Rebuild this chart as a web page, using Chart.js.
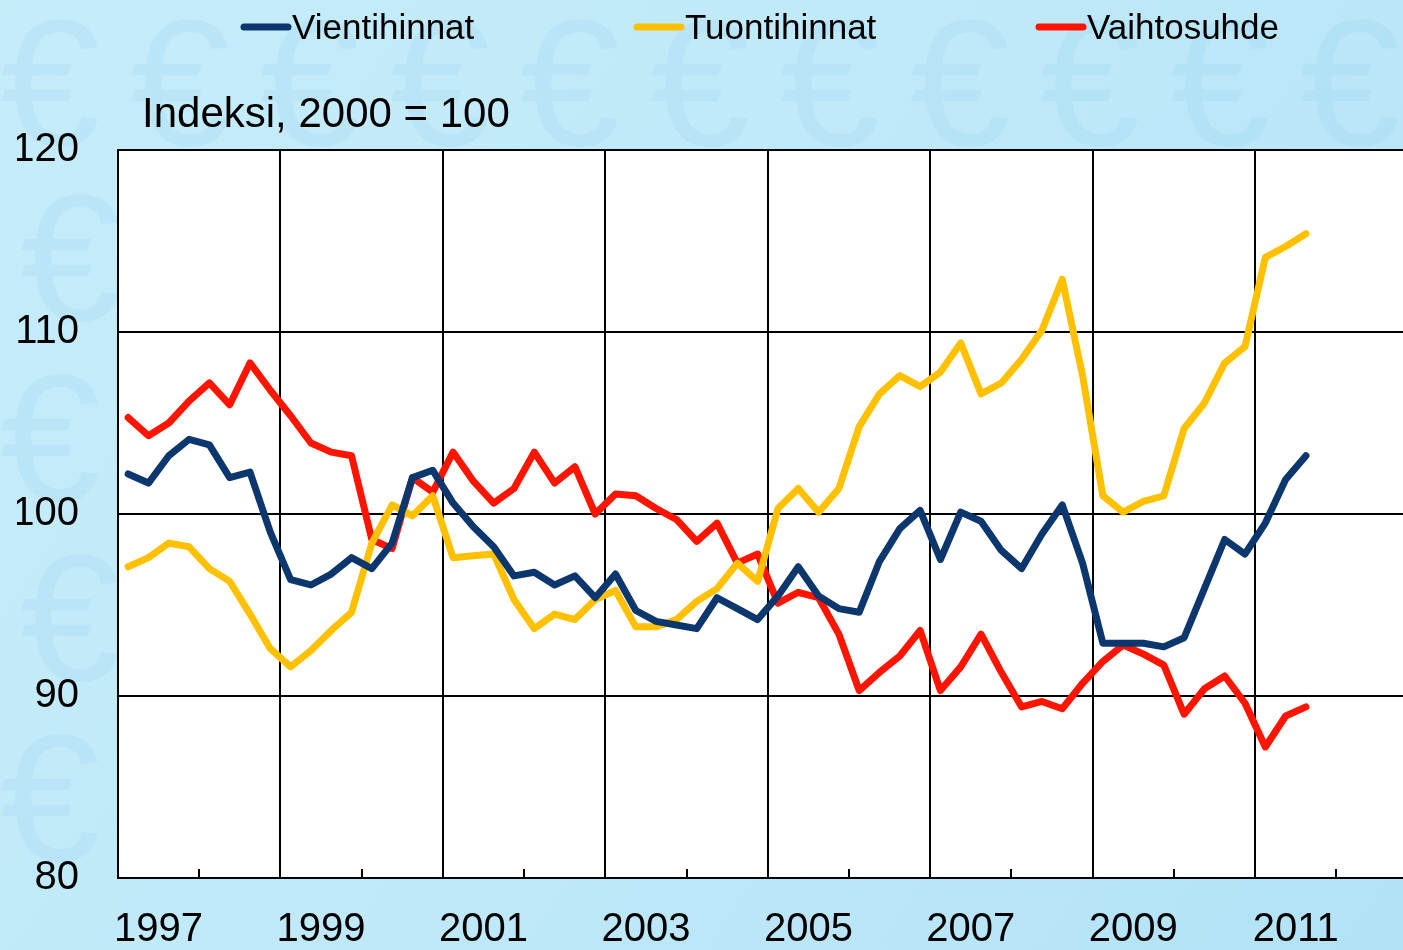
<!DOCTYPE html>
<html><head><meta charset="utf-8">
<script src="https://cdn.jsdelivr.net/npm/chart.js@4.4.1/dist/chart.umd.min.js"></script>
<style>html,body{margin:0;padding:0;overflow:hidden;background:#c0e9f9}#wrap{width:1403px;height:950px;position:relative}canvas{display:block}</style>
</head><body><div id="wrap"><canvas id="c" width="1403" height="950"></canvas></div>
<script>
const quarterLabels = [
 '1997Q1','1997Q2','1997Q3','1997Q4','1998Q1','1998Q2','1998Q3','1998Q4',
 '1999Q1','1999Q2','1999Q3','1999Q4','2000Q1','2000Q2','2000Q3','2000Q4',
 '2001Q1','2001Q2','2001Q3','2001Q4','2002Q1','2002Q2','2002Q3','2002Q4',
 '2003Q1','2003Q2','2003Q3','2003Q4','2004Q1','2004Q2','2004Q3','2004Q4',
 '2005Q1','2005Q2','2005Q3','2005Q4','2006Q1','2006Q2','2006Q3','2006Q4',
 '2007Q1','2007Q2','2007Q3','2007Q4','2008Q1','2008Q2','2008Q3','2008Q4',
 '2009Q1','2009Q2','2009Q3','2009Q4','2010Q1','2010Q2','2010Q3','2010Q4',
 '2011Q1','2011Q2','2011Q3'];
const vientihinnat = [
 102.2,101.7,103.2,104.1,103.8,102.0,102.3,99.0,
 96.4,96.1,96.7,97.6,97.0,98.4,102.0,102.4,
 100.6,99.3,98.2,96.6,96.8,96.1,96.6,95.4,
 96.7,94.7,94.1,93.9,93.7,95.4,94.8,94.2,
 95.5,97.1,95.5,94.8,94.6,97.4,99.2,100.2,
 97.5,100.1,99.6,98.0,97.0,98.9,100.5,97.3,
 92.9,92.9,92.9,92.7,93.2,95.9,98.6,97.8,
 99.5,101.9,103.2];
const tuontihinnat = [
 97.1,97.6,98.4,98.2,97.0,96.3,94.5,92.6,
 91.6,92.5,93.6,94.6,98.4,100.5,99.9,101.0,
 97.6,97.7,97.8,95.3,93.7,94.5,94.2,95.3,
 95.8,93.8,93.8,94.2,95.2,95.9,97.3,96.3,
 100.3,101.4,100.1,101.4,104.8,106.6,107.6,107.0,
 107.8,109.4,106.6,107.2,108.5,110.1,112.9,107.6,
 101.0,100.1,100.7,101.0,104.7,106.1,108.3,109.2,
 114.1,114.7,115.4];
const vaihtosuhde = [
 105.3,104.3,105.0,106.2,107.2,106.0,108.3,106.8,
 105.4,103.9,103.4,103.2,98.6,98.1,102.0,101.2,
 103.4,101.8,100.6,101.4,103.4,101.7,102.6,100.0,
 101.1,101.0,100.3,99.7,98.5,99.5,97.3,97.8,
 95.1,95.7,95.4,93.4,90.3,91.3,92.2,93.6,
 90.3,91.6,93.4,91.3,89.4,89.7,89.3,90.7,
 91.9,92.8,92.3,91.7,89.0,90.4,91.1,89.6,
 87.2,88.9,89.4];
const seriesNames = ['Vientihinnat','Tuontihinnat','Vaihtosuhde'];
const seriesColors = ['#0B376E','#FFC000','#FF1400'];
const yearTicks = [1997,1998,1999,2000,2001,2002,2003,2004,2005,2006,2007,2008,2009,2010,2011,2012];
const yearLabels = ['1997','1999','2001','2003','2005','2007','2009','2011'];
const yTicks = [80,90,100,110,120];
const unitTitle = 'Indeksi, 2000 = 100';

const FONT = "'Liberation Sans', Arial, sans-serif";
function qx(label){ const y = +label.slice(0,4), q = +label.slice(5); return y + (q - 0.5) / 4; }
const toPoints = vals => vals.map((v, i) => ({x: qx(quarterLabels[i]), y: v}));
const seriesValues = [vientihinnat, tuontihinnat, vaihtosuhde];

const bgPlugin = {
  id: 'bg',
  beforeDraw(chart) {
    const ctx = chart.ctx, W = chart.width, H = chart.height;
    ctx.save();
    const g = ctx.createLinearGradient(0, 0, W, H);
    g.addColorStop(0, '#c6ecfa');
    g.addColorStop(0.5, '#bfe9f9');
    g.addColorStop(1, '#b3e2f6');
    ctx.fillStyle = g;
    ctx.fillRect(0, 0, W, H);
    ctx.fillStyle = 'rgba(120,195,235,0.13)';
    ctx.font = '180px ' + FONT;
    ctx.textAlign = 'center';
    ctx.textBaseline = 'middle';
    const rows = [95, 270, 450, 630, 810];
    rows.forEach((ry, r) => {
      for (let cx = 50 + (r % 2) * 20; cx < W + 100; cx += 130) ctx.fillText('\u20AC', cx, ry);
    });
    const a = chart.chartArea;
    ctx.fillStyle = '#ffffff';
    ctx.fillRect(a.left, a.top, a.right - a.left, a.bottom - a.top);
    ctx.restore();
  }
};

const overlayPlugin = {
  id: 'overlay',
  afterDraw(chart) {
    const ctx = chart.ctx, xs = chart.scales.x, a = chart.chartArea;
    ctx.save();
    ctx.strokeStyle = '#000';
    ctx.lineWidth = 2;
    yearTicks.forEach(v => {
      if (v === yearTicks[0]) return;
      const px = Math.round(xs.getPixelForValue(v));
      ctx.beginPath();
      ctx.moveTo(px, a.bottom);
      ctx.lineTo(px, a.bottom - 9);
      ctx.stroke();
    });
    const legendX = [241, 634, 1036];
    ctx.font = '35px ' + FONT;
    ctx.textBaseline = 'alphabetic';
    ctx.textAlign = 'left';
    chart.data.datasets.forEach((ds, i) => {
      const x0 = legendX[i];
      ctx.strokeStyle = ds.borderColor;
      ctx.lineWidth = 7;
      ctx.lineCap = 'round';
      ctx.beginPath();
      ctx.moveTo(x0 + 3, 27);
      ctx.lineTo(x0 + 47, 27);
      ctx.stroke();
      ctx.fillStyle = '#000';
      ctx.fillText(ds.label, x0 + 51, 39);
    });
    ctx.font = '42px ' + FONT;
    ctx.fillStyle = '#000';
    ctx.fillText(unitTitle, 142, 127);
    ctx.restore();
  }
};

new Chart(document.getElementById('c'), {
  type: 'line',
  data: {
    datasets: seriesValues.map((vals, i) => ({
      label: seriesNames[i],
      data: toPoints(vals),
      borderColor: seriesColors[i],
      backgroundColor: seriesColors[i],
      borderWidth: 7,
      pointRadius: 0,
      tension: 0,
      borderJoinStyle: 'round',
      borderCapStyle: 'round',
      fill: false
    }))
  },
  options: {
    responsive: false,
    animation: false,
    events: [],
    layout: {padding: {left: 17, top: 150, right: 0, bottom: 1}},
    plugins: {legend: {display: false}, tooltip: {enabled: false}, title: {display: false}},
    scales: {
      x: {
        type: 'linear',
        min: 1997,
        max: 2012.82,
        afterBuildTicks: s => { s.ticks = yearTicks.map(v => ({value: v})); },
        afterFit: s => { s.height = 71; },
        ticks: {
          callback: v => yearLabels.includes(String(v)) ? String(v) : '',
          labelOffset: 40.6,
          padding: 32,
          autoSkip: false,
          maxRotation: 0,
          minRotation: 0,
          color: '#000',
          font: {family: FONT, size: 40, lineHeight: 1}
        },
        grid: {
          color: c => (c.tick && c.tick.value > 1997 && yearLabels.includes(String(c.tick.value))) ? '#000' : 'rgba(0,0,0,0)',
          lineWidth: 2,
          drawTicks: false
        },
        border: {display: true, color: '#000', width: 2}
      },
      y: {
        min: 80,
        max: 120,
        afterBuildTicks: s => { s.ticks = yTicks.map(v => ({value: v})); },
        afterFit: s => { s.width = 101; },
        ticks: {
          padding: 39,
          color: '#000',
          font: {family: FONT, size: 40, lineHeight: 1}
        },
        grid: {color: '#000', lineWidth: 2, drawTicks: false},
        border: {display: true, color: '#000', width: 2}
      }
    }
  },
  plugins: [bgPlugin, overlayPlugin]
});
</script></body></html>
